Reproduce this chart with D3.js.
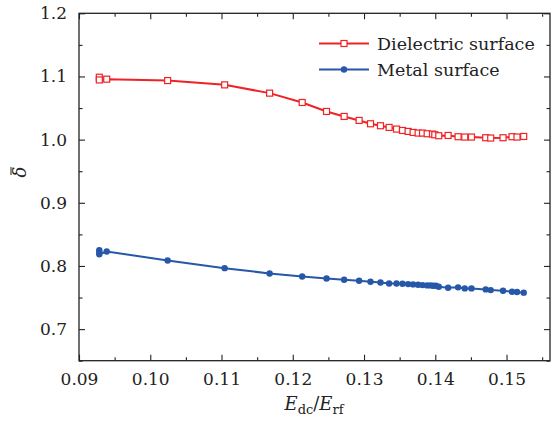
<!DOCTYPE html>
<html>
<head>
<meta charset="utf-8">
<script src="https://cdn.jsdelivr.net/npm/d3@7"></script>
<style>
  html, body { margin: 0; padding: 0; background: #fff; }
  svg text { font-family: "DejaVu Serif", serif; fill: #222; }
</style>
</head>
<body>
<svg id="chart" width="560" height="421"></svg>
<script>
// Field ratio E_dc/E_rf and mean secondary yield for the dielectric surface
const dielectricX = [0.09285, 0.09285, 0.09389, 0.10244, 0.11044, 0.11675, 0.12132, 0.12474,
  0.12721, 0.12931, 0.13091, 0.13231, 0.13352, 0.13456, 0.1354, 0.13619, 0.13689, 0.13759,
  0.13821, 0.13886, 0.13961, 0.13993, 0.14049, 0.1418, 0.1432, 0.14414, 0.14508, 0.14708,
  0.14778, 0.14951, 0.15077, 0.15147, 0.15241];
const dielectricY = [1.0988, 1.0945, 1.0957, 1.0935, 1.0867, 1.0736, 1.0588, 1.0446,
  1.0367, 1.0304, 1.0251, 1.022, 1.0193, 1.0167, 1.0145, 1.013, 1.0114, 1.0104,
  1.0104, 1.0093, 1.0088, 1.0077, 1.0062, 1.0066, 1.0046, 1.0041, 1.0041, 1.003,
  1.0025, 1.003, 1.0046, 1.0041, 1.005];

// Same quantity for the metal surface
const metalX = [0.09285, 0.09285, 0.09285, 0.09389, 0.10244, 0.11044, 0.11675, 0.12132, 0.12474,
  0.12721, 0.12931, 0.13091, 0.13231, 0.13352, 0.13456, 0.1354, 0.13619, 0.13689, 0.13759,
  0.13821, 0.13886, 0.13933, 0.13970, 0.14008, 0.14049, 0.1418, 0.1432, 0.14414, 0.14508,
  0.14708, 0.14778, 0.14951, 0.15077, 0.15147, 0.15241];
const metalY = [0.8250, 0.8215, 0.8185, 0.8229, 0.8087, 0.7965, 0.7881, 0.7834, 0.7802,
  0.7782, 0.7766, 0.775, 0.7739, 0.7723, 0.7723, 0.7718, 0.7713, 0.7708, 0.7703,
  0.7697, 0.7692, 0.7692, 0.7687, 0.7687, 0.7671, 0.7656, 0.7661, 0.7645, 0.7645,
  0.7629, 0.7618, 0.7608, 0.7592, 0.7587, 0.7577];

const xTicks = [0.09, 0.10, 0.11, 0.12, 0.13, 0.14, 0.15];
const xTickLabels = ["0.09", "0.10", "0.11", "0.12", "0.13", "0.14", "0.15"];
const yTicks = [0.7, 0.8, 0.9, 1.0, 1.1, 1.2];
const yTickLabels = ["0.7", "0.8", "0.9", "1.0", "1.1", "1.2"];
const seriesNames = ["Dielectric surface", "Metal surface"];

const RED = "#ee2326";
const BLUE = "#2757a8";
const FONT = "'DejaVu Serif', serif";

const svg = d3.select("#chart");
const plotLeft = 79, plotRight = 550, plotTop = 13.3, plotBottom = 360.7;

const x = d3.scaleLinear().domain([0.09, 0.1561]).range([plotLeft, plotRight]);
const y = d3.scaleLinear().domain([0.65, 1.2]).range([plotBottom, plotTop]);

const minorX = d3.range(0.095, 0.156, 0.01);
const minorY = d3.range(0.65, 1.2, 0.1).map(v => +v.toFixed(2));

const frame = svg.append("g");

// Inward ticks on all four sides
function tickAxis(axisFn, scale, pos, values, len, fmtVals) {
  const a = axisFn(scale).tickValues(values).tickSizeInner(-len).tickSizeOuter(0)
    .tickPadding(12)
    .tickFormat(fmtVals ? (d, i) => fmtVals[i] : () => "");
  const g = frame.append("g").attr("transform", pos).call(a);
  g.select(".domain").remove();
  g.selectAll(".tick line").attr("stroke", "#222").attr("stroke-width", 1.1);
  return g;
}

const gxb = tickAxis(d3.axisBottom, x, `translate(0,${plotBottom})`, xTicks, 6, xTickLabels);
tickAxis(d3.axisBottom, x, `translate(0,${plotBottom})`, minorX, 3.5, null);
tickAxis(d3.axisTop, x, `translate(0,${plotTop})`, xTicks, 6, null);
tickAxis(d3.axisTop, x, `translate(0,${plotTop})`, minorX, 3.5, null);
const gyl = tickAxis(d3.axisLeft, y, `translate(${plotLeft},0)`, yTicks, 6, yTickLabels);
tickAxis(d3.axisLeft, y, `translate(${plotLeft},0)`, minorY, 3.5, null);
tickAxis(d3.axisRight, y, `translate(${plotRight},0)`, yTicks, 6, null);
tickAxis(d3.axisRight, y, `translate(${plotRight},0)`, minorY, 3.5, null);

gxb.selectAll(".tick text").attr("font-size", 17).attr("dy", "0.71em")
  .attr("font-family", FONT).attr("fill", "#222");
gyl.selectAll(".tick text").attr("font-size", 17)
  .attr("font-family", FONT).attr("fill", "#222");

frame.append("rect")
  .attr("x", plotLeft).attr("y", plotTop)
  .attr("width", plotRight - plotLeft).attr("height", plotBottom - plotTop)
  .attr("fill", "none").attr("stroke", "#222").attr("stroke-width", 1.3);

// Series
const line = d3.line().x(d => x(d[0])).y(d => y(d[1]));
const dielectric = dielectricX.map((v, i) => [v, dielectricY[i]]);
const metal = metalX.map((v, i) => [v, metalY[i]]);

const plot = svg.append("g");
plot.append("path").datum(dielectric).attr("d", line)
  .attr("fill", "none").attr("stroke", RED).attr("stroke-width", 2);
plot.append("path").datum(metal).attr("d", line)
  .attr("fill", "none").attr("stroke", BLUE).attr("stroke-width", 2);

plot.selectAll("rect.dm").data(dielectric).join("rect").attr("class", "dm")
  .attr("x", d => x(d[0]) - 3).attr("y", d => y(d[1]) - 3)
  .attr("width", 6).attr("height", 6)
  .attr("fill", "#fff").attr("stroke", RED).attr("stroke-width", 1.2);
plot.selectAll("circle.mm").data(metal).join("circle").attr("class", "mm")
  .attr("cx", d => x(d[0])).attr("cy", d => y(d[1])).attr("r", 3.2)
  .attr("fill", BLUE);

// Legend
const legend = svg.append("g");
const legendRows = [
  { name: seriesNames[0], color: RED, marker: "square", y: 43.5 },
  { name: seriesNames[1], color: BLUE, marker: "circle", y: 69.5 }
];
legendRows.forEach(r => {
  legend.append("line").attr("x1", 319).attr("x2", 369).attr("y1", r.y).attr("y2", r.y)
    .attr("stroke", r.color).attr("stroke-width", 2);
  if (r.marker === "square") {
    legend.append("rect").attr("x", 341).attr("y", r.y - 3).attr("width", 6).attr("height", 6)
      .attr("fill", "#fff").attr("stroke", r.color).attr("stroke-width", 1.2);
  } else {
    legend.append("circle").attr("cx", 344).attr("cy", r.y).attr("r", 3.2).attr("fill", r.color);
  }
  legend.append("text").attr("x", 377).attr("y", r.y + 6)
    .attr("font-family", FONT).attr("font-size", 17.5).text(r.name);
});

// Axis titles
const xt = svg.append("text").attr("x", 314).attr("y", 410).attr("text-anchor", "middle")
  .attr("font-family", FONT).attr("font-size", 18);
xt.append("tspan").attr("font-style", "italic").text("E");
xt.append("tspan").attr("font-size", 13).attr("dy", 4).text("dc");
xt.append("tspan").attr("dy", -4).text("/");
xt.append("tspan").attr("font-style", "italic").text("E");
xt.append("tspan").attr("font-size", 13).attr("dy", 4).text("rf");

const yt = svg.append("g").attr("transform", "translate(26,172) rotate(-90)");
yt.append("text").attr("text-anchor", "middle").attr("font-family", FONT)
  .attr("font-size", 18).attr("font-style", "italic").text("δ");
yt.append("line").attr("x1", -3).attr("x2", 5).attr("y1", -15).attr("y2", -15)
  .attr("stroke", "#222").attr("stroke-width", 1);
</script>
</body>
</html>
